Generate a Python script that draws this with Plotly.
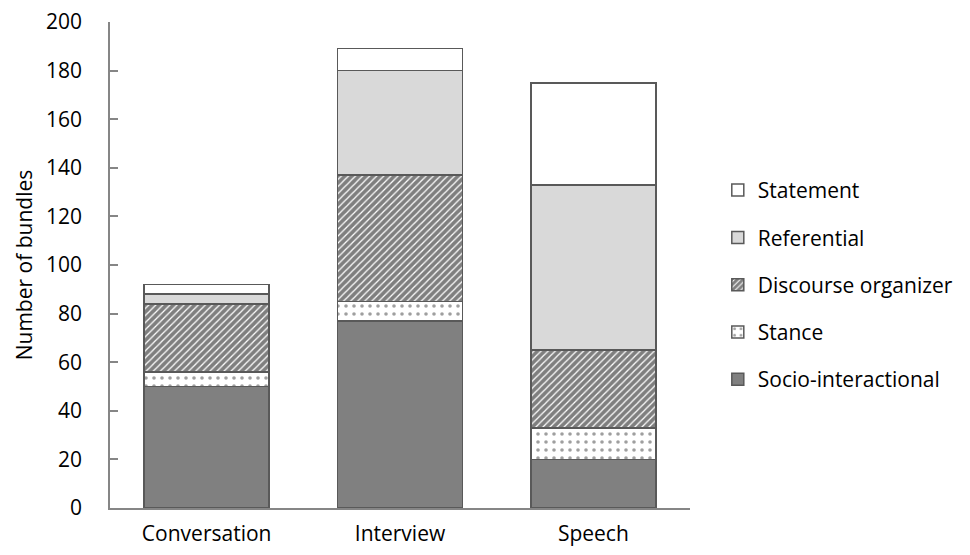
import plotly.graph_objects as go

categories = ["Conversation", "Interview", "Speech"]

socio_interactional = [50, 77, 20]
stance = [6, 8, 13]
discourse_organizer = [28, 52, 32]
referential = [4, 43, 68]
statement = [4, 9, 42]

y_ticks = [0, 20, 40, 60, 80, 100, 120, 140, 160, 180, 200]

FONT = "Open Sans"
OUTLINE = "#595959"
AXIS = "#868686"

series = [
    ("Socio-interactional", socio_interactional,
     dict(color="#808080")),
    ("Stance", stance,
     dict(color="white",
          pattern=dict(shape=".", fgcolor="#404040", bgcolor="white",
                       size=8, solidity=0.16))),
    ("Discourse organizer", discourse_organizer,
     dict(color="white",
          pattern=dict(shape="/", fgcolor="black", bgcolor="white",
                       size=5, solidity=0.75))),
    ("Referential", referential,
     dict(color="#d9d9d9")),
    ("Statement", statement,
     dict(color="white")),
]

fig = go.Figure()
n = len(series)
for i, (name, values, marker) in enumerate(series):
    marker = dict(marker, line=dict(color=OUTLINE, width=1.5))
    fig.add_trace(go.Bar(
        x=categories, y=values, name=name, marker=marker,
        legendgroup=name, legendrank=n - i, hoverinfo="skip",
    ))

fig.update_layout(
    width=970, height=555,
    barmode="stack",
    bargap=0.353,
    plot_bgcolor="white",
    paper_bgcolor="white",
    margin=dict(l=110, r=280, t=22, b=47, autoexpand=False),
    font=dict(family=FONT, size=22, color="black"),
    showlegend=True,
    legend=dict(
        traceorder="grouped",
        xref="container", x=0.74, xanchor="left",
        y=0.459, yanchor="middle",
        tracegroupgap=17,
        font=dict(family=FONT, size=21, color="black"),
        itemwidth=30,
    ),
    xaxis=dict(
        showline=True, linecolor=AXIS, linewidth=1.5,
        ticks="", showgrid=False, tickfont=dict(size=21),
        ticklabelstandoff=6, automargin=False,
    ),
    yaxis=dict(
        range=[0, 200], tickvals=y_ticks,
        showline=True, linecolor=AXIS, linewidth=1.5,
        ticks="inside", ticklen=8, tickcolor=AXIS, tickwidth=1.5,
        showgrid=False, zeroline=False,
        tickfont=dict(size=21),
        ticklabelstandoff=22, automargin=False,
        title=dict(text="Number of bundles", font=dict(size=21), standoff=8),
    ),
)

fig.write_html("out.html")
